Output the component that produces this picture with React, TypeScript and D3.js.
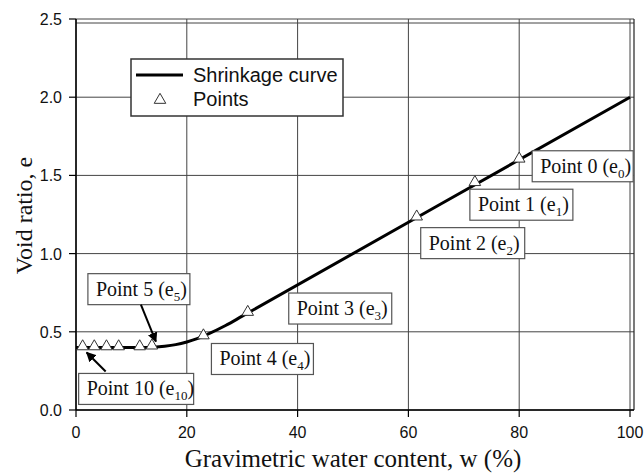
import React from "react";
import * as d3 from "d3";

// ---- data ----
const curveW = [0, 2, 4, 6, 8, 10, 12, 14, 16, 18, 20, 22, 24, 27, 30, 100];
const curveE = [0.4, 0.4, 0.4, 0.4, 0.4, 0.4, 0.4, 0.402, 0.408, 0.418, 0.435, 0.458, 0.488, 0.54, 0.6, 2.0];

const pointNames = ["0", "1", "2", "3", "4", "5", "6", "7", "8", "9", "10"];
const pointW = [80, 72, 61.5, 31, 23, 13.7, 11.5, 7.7, 5.5, 3.3, 1.2];
const pointE = [1.6, 1.45, 1.23, 0.62, 0.47, 0.405, 0.4, 0.4, 0.4, 0.4, 0.4];

const xTicks = [0, 20, 40, 60, 80, 100];
const yTicks = [0, 0.5, 1.0, 1.5, 2.0, 2.5];

const xTitle = "Gravimetric water content, w (%)";
const yTitle = "Void ratio, e";
const legendLabels = ["Shrinkage curve", "Points"];

// annotation layout: which point, box offset from the point (px), width
const annotated = ["0", "1", "2", "3", "4", "5", "10"];
const boxLayout: Record<string, { dx: number; dy: number; w: number }> = {
  "0": { dx: 13, dy: -9, w: 101 },
  "1": { dx: -5, dy: 6, w: 103 },
  "2": { dx: 4, dy: 10, w: 104 },
  "3": { dx: 41, dy: -20, w: 103 },
  "4": { dx: 8, dy: 7, w: 102 },
  "5": { dx: -64, dy: -73, w: 102 },
  "10": { dx: -4, dy: 26, w: 115 },
};
const arrowLayout: Record<string, { x1: number; y1: number; x2: number; y2: number }> = {
  "5": { x1: -11, y1: -42, x2: 4, y2: -5 },
  "10": { x1: 23, y1: 24, x2: 4, y2: 5 },
};

const W = 644;
const H = 473;
const L = 76, R = 630, T = 19, B = 410;

export default function App() {
  const x = d3.scaleLinear().domain([0, 100]).range([L, R]);
  const y = d3.scaleLinear().domain([0, 2.5]).range([B, T]);

  const line = d3
    .line<number>()
    .x((_, i) => x(curveW[i]))
    .y((_, i) => y(curveE[i]))
    .curve(d3.curveMonotoneX);
  const path = line(curveW) || "";

  const tri = d3.symbol().type(d3.symbolTriangle).size(58)() || "";

  const serif = "'Liberation Serif', 'Times New Roman', serif";
  const sans = "'Liberation Sans', Arial, sans-serif";

  return (
    <svg width={W} height={H} style={{ position: "absolute", left: 0, top: 0 }}>
      <defs>
        <marker id="ah" viewBox="0 0 10 10" refX="9" refY="5" markerWidth="5" markerHeight="5" orient="auto">
          <path d="M0,0 L10,5 L0,10 z" fill="#000" />
        </marker>
      </defs>
      <rect width={W} height={H} fill="#fff" />
      {/* gridlines */}
      {xTicks.map((t) => (
        <line key={"gx" + t} x1={x(t)} x2={x(t)} y1={y(2.5)} y2={y(0)} stroke="#444" strokeWidth={1} />
      ))}
      {yTicks.map((t) => (
        <line key={"gy" + t} x1={x(0)} x2={x(100) + 4} y1={y(t)} y2={y(t)} stroke="#444" strokeWidth={1} />
      ))}
      {/* frame extras */}
      <line x1={x(0)} x2={x(100) + 4} y1={y(2.5) + 4} y2={y(2.5) + 4} stroke="#444" strokeWidth={1} />
      <line x1={x(100) + 4} x2={x(100) + 4} y1={y(2.5)} y2={y(0)} stroke="#222" strokeWidth={1.2} />
      {/* axes */}
      <line x1={x(0)} x2={x(0)} y1={y(2.5)} y2={y(0)} stroke="#000" strokeWidth={1.5} />
      <line x1={x(0)} x2={x(100) + 4} y1={y(0)} y2={y(0)} stroke="#000" strokeWidth={1.5} />
      {xTicks.map((t) => (
        <g key={"xt" + t}>
          <line x1={x(t)} x2={x(t)} y1={y(0)} y2={y(0) + 7} stroke="#000" strokeWidth={1.2} />
          <text x={x(t)} y={y(0) + 28} textAnchor="middle" fontFamily={sans} fontSize={16} fill="#111">
            {t}
          </text>
        </g>
      ))}
      {yTicks.map((t) => (
        <g key={"yt" + t}>
          <line x1={x(0) - 7} x2={x(0)} y1={y(t)} y2={y(t)} stroke="#000" strokeWidth={1.2} />
          <text x={x(0) - 14} y={y(t) + 6} textAnchor="end" fontFamily={sans} fontSize={16} fill="#111">
            {t.toFixed(1)}
          </text>
        </g>
      ))}
      {/* titles */}
      <text x={(x(0) + x(100)) / 2} y={467} textAnchor="middle" fontFamily={serif} fontSize={25} fill="#111">
        {xTitle}
      </text>
      <text
        transform={`translate(32, ${(y(0) + y(2.5)) / 2 + 1}) rotate(-90)`}
        textAnchor="middle"
        fontFamily={serif}
        fontSize={24}
        fill="#111"
      >
        {yTitle}
      </text>

      {/* curve */}
      <path d={path} fill="none" stroke="#000" strokeWidth={3} />
      {/* points */}
      {pointW.map((w, i) => (
        <path
          key={"p" + i}
          d={tri}
          transform={`translate(${x(w)},${y(pointE[i]) - 1})`}
          fill="#fff"
          stroke="#333"
          strokeWidth={1}
        />
      ))}

      {/* annotations */}
      {annotated.map((n) => {
        const i = pointNames.indexOf(n);
        const px = x(pointW[i]);
        const py = y(pointE[i]);
        const b = boxLayout[n];
        const bx = px + b.dx;
        const by = py + b.dy;
        const a = arrowLayout[n];
        return (
          <g key={"a" + n}>
            <rect x={bx} y={by} width={b.w} height={31} fill="#fff" stroke="#555" strokeWidth={1.2} />
            <text x={bx + 8} y={by + 22} fontFamily={serif} fontSize={20} fill="#111">
              {`Point ${n} (e`}
              <tspan fontSize={13} dy={5}>
                {n}
              </tspan>
              <tspan dy={-5}>)</tspan>
            </text>
            {a && (
              <line
                x1={px + a.x1}
                y1={py + a.y1}
                x2={px + a.x2}
                y2={py + a.y2}
                stroke="#000"
                strokeWidth={2}
                markerEnd="url(#ah)"
              />
            )}
          </g>
        );
      })}

      {/* legend */}
      <g>
        <rect x={131} y={59} width={212} height={57} fill="#fff" stroke="#333" strokeWidth={1.5} />
        <line x1={136} x2={183} y1={75} y2={75} stroke="#000" strokeWidth={3} />
        <path d={tri} transform="translate(160,100)" fill="#fff" stroke="#333" strokeWidth={1} />
        <text x={193} y={82} fontFamily={sans} fontSize={20} fill="#111">
          {legendLabels[0]}
        </text>
        <text x={193} y={106} fontFamily={sans} fontSize={20} fill="#111">
          {legendLabels[1]}
        </text>
      </g>
    </svg>
  );
}
